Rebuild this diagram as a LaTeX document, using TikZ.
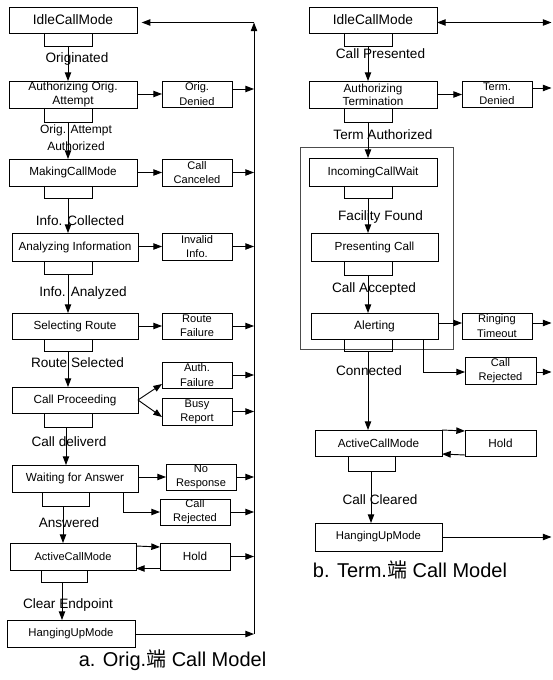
\documentclass[tikz,border=0pt]{standalone}
\usepackage{fontspec}
\setmainfont{Liberation Sans}
\newfontfamily\cjk{Noto Sans CJK SC}
\usetikzlibrary{arrows.meta}
\begin{document}
\begin{tikzpicture}[x=0.75pt,y=-0.75pt,
 every node/.style={inner sep=0pt, outer sep=0pt},
 bx/.style n args={2}{draw, line width=0.7pt, minimum width=#1*0.75pt, minimum height=#2*0.75pt, align=center},
 big/.style={bx={128}{27}, font=\fontsize{8.8}{10}\selectfont},
 idlebox/.style={bx={128}{26}, font=\fontsize{10.3}{12}\selectfont},
 sm/.style={bx={70}{26}, font=\fontsize{8.3}{10.6}\selectfont},
 lbl/.style={font=\fontsize{10.2}{12}\selectfont, align=center},
 captxt/.style={font=\fontsize{15}{18}\selectfont},
 ln/.style={line width=0.7pt},
 arr/.style={line width=0.7pt, -{Triangle[length=6.5pt,width=4.8pt]}},
 darr/.style={line width=0.7pt, {Triangle[length=6.5pt,width=4.8pt]}-{Triangle[length=6.5pt,width=4.8pt]}}
]
\useasboundingbox (0,0) rectangle (552,680);

% ================= left column =================
\node[idlebox] (idleL) at (73,20) {IdleCallMode};
\node[big, font=\fontsize{9}{10}\selectfont] (authO) at (73,94.5) {Authorizing Orig.\\Attempt};
\node[big] (making) at (73,172.5) {MakingCallMode};
\node[big, minimum width=126*0.75pt, minimum height=28*0.75pt] (anal) at (75,247) {Analyzing Information};
\node[big, minimum width=126*0.75pt, minimum height=26*0.75pt] (sel) at (75,326) {Selecting Route};
\node[big, minimum width=126*0.75pt, minimum height=26*0.75pt] (proc) at (75,400) {Call Proceeding};
\node[big, minimum width=126*0.75pt] (wait) at (75,478.5) {Waiting for Answer};
\node[big, minimum width=126*0.75pt, font=\fontsize{8.3}{10}\selectfont] (actL) at (73,556.5) {ActiveCallMode};
\node[big, font=\fontsize{8.5}{10}\selectfont] (hangL) at (71,633.5) {HangingUpMode};

\node[sm] (oden) at (197,94) {Orig.\\Denied};
\node[sm, minimum height=27*0.75pt] (ccan) at (197,172.5) {Call\\Canceled};
\node[sm, minimum height=27*0.75pt] (inv) at (197,246.5) {Invalid\\Info.};
\node[sm] (rfail) at (197,326) {Route\\Failure};
\node[sm] (afail) at (197,375) {Auth.\\Failure};
\node[sm, minimum height=27*0.75pt] (busy) at (197,411.5) {Busy\\Report};
\node[sm] (nores) at (201,477) {No\\Response};
\node[sm] (rejL) at (195,512) {Call\\Rejected};
\node[sm, minimum height=27*0.75pt, font=\fontsize{8.8}{10}\selectfont] (holdL) at (195,556.5) {Hold};

% brackets (left)
\draw[ln] (44,33) -- (44,46) -- (92,46) -- (92,33);
\draw[ln] (44,108) -- (44,122) -- (92,122) -- (92,108);
\draw[ln] (44,186) -- (44,198) -- (92,198) -- (92,186);
\draw[ln] (44,261) -- (44,274) -- (92,274) -- (92,261);
\draw[ln] (44,339) -- (44,351) -- (92,351) -- (92,339);
\draw[ln] (44,413) -- (44,427) -- (92,427) -- (92,413);
\draw[ln] (42,492) -- (42,506) -- (89,506) -- (89,492);
\draw[ln] (41,570) -- (41,582) -- (87,582) -- (87,570);

\coordinate (lb1) at (68,46);
\coordinate (lb2) at (68,122);
\coordinate (lb3) at (68,198);
\coordinate (lb4) at (68,274);
\coordinate (lb5) at (68,351);
\coordinate (lb6) at (66,427);
\coordinate (lb7) at (63,506);
\coordinate (lb8) at (62,582);
\draw[arr] (lb1) -- (authO.north -| lb1);
\draw[arr] (lb2) -- (making.north -| lb2);
\draw[arr] (lb3) -- (anal.north -| lb3);
\draw[arr] (lb4) -- (sel.north -| lb4);
\draw[arr] (lb5) -- (proc.north -| lb5);
\draw[arr] (lb6) -- (wait.north -| lb6);
\draw[arr] (lb7) -- (actL.north -| lb7);
\draw[arr] (lb8) -- (hangL.north -| lb8);

% labels (left)
\node[lbl] (t1) at (77,59) {Originated};
\node[lbl, font=\fontsize{9}{12.5}\selectfont] (t2) at (76,137.5) {Orig. Attempt\\Authorized};
\node[lbl] (t3) at (80,221) {Info. Collected};
\node[lbl] (t4) at (83,293) {Info. Analyzed};
\node[lbl] (t5) at (77.5,363) {Route Selected};
\node[lbl] (t6) at (69,442) {Call deliverd};
\node[lbl] (t7) at (69,523) {Answered};
\node[lbl] (t8) at (68,605) {Clear Endpoint};

% horizontal arrows (left)
\draw[arr] (authO.east |- oden.west) -- (oden.west);
\draw[arr] (making.east) -- (making.east -| ccan.west);
\draw[arr] (anal.east |- inv.west) -- (inv.west);
\draw[arr] (sel.east) -- (sel.east -| rfail.west);
\draw[arr] (proc.east) -- ([shift={(0,9)}]afail.west);
\draw[arr] (proc.east) -- ([shift={(0,5.5)}]busy.west);
\draw[arr] (wait.east |- nores.west) -- (nores.west);
\coordinate (w1) at (123,492);
\draw[arr] (w1) |- (rejL.west);
\draw[arr] ([shift={(0,3)}]actL.north east) -- ([shift={(0,4)}]holdL.north west);
\draw[arr] ([shift={(0,-1.5)}]holdL.south west) -- ([shift={(0,-1.5)}]actL.south east);

% return spine
\coordinate (top) at (254,22.5);
\coordinate (bot) at (254,634);
\draw[arr] (bot) -- (top);
\draw[arr, shorten >=3.5pt] (top) -- (idleL.east |- top);
\draw[arr] ([shift={(0,-5)}]oden.east) -- ([shift={(0,-5)}]oden.east -| top);
\draw[arr] (ccan.east) -- (ccan.east -| top);
\draw[arr] (inv.east) -- (inv.east -| top);
\draw[arr] (rfail.east) -- (rfail.east -| top);
\draw[arr] (afail.east) -- (afail.east -| top);
\draw[arr] (busy.east) -- (busy.east -| top);
\draw[arr] (nores.east) -- (nores.east -| top);
\draw[arr] (rejL.east) -- (rejL.east -| top);
\draw[arr] (holdL.east) -- (holdL.east -| top);
\draw[arr] (hangL.east |- bot) -- (bot);

\node[captxt] (capA) at (172.5,660) {a. Orig.{\cjk 端} Call Model};

% ================= right column =================
\node[draw, line width=0.6pt, draw=black!70, minimum width=153*0.75pt, minimum height=202*0.75pt] (cont) at (376.5,248) {};
\node[idlebox] (idleR) at (373,20) {IdleCallMode};
\node[big] (authT) at (373,94.5) {Authorizing\\Termination};
\node[sm] (tden) at (497,94) {Term.\\Denied};
\node[big, minimum height=28*0.75pt] (inc) at (373,172) {IncomingCallWait};
\node[big, minimum width=127*0.75pt, minimum height=28*0.75pt] (pres) at (374.5,247) {Presenting Call};
\node[big, minimum width=127*0.75pt, minimum height=26*0.75pt, font=\fontsize{9}{10}\selectfont] (alert) at (374.5,326) {Alerting};
\node[sm] (ring) at (497,326) {Ringing\\Timeout};
\node[sm, minimum width=71*0.75pt, minimum height=27*0.75pt] (rejR) at (500.5,370.5) {Call\\Rejected};
\node[big, minimum width=127*0.75pt, minimum height=26*0.75pt] (actR) at (378.5,443) {ActiveCallMode};
\node[sm, minimum width=71*0.75pt, font=\fontsize{8.8}{10}\selectfont] (holdR) at (500.5,443) {Hold};
\node[big, minimum width=127*0.75pt, minimum height=28*0.75pt, font=\fontsize{8.5}{10}\selectfont] (hangR) at (378.5,537) {HangingUpMode};

% brackets (right)
\draw[ln] (344,33) -- (344,46) -- (392,46) -- (392,33);
\draw[ln] (344,108) -- (344,122) -- (392,122) -- (392,108);
\draw[ln] (344,186) -- (344,198) -- (392,198) -- (392,186);
\draw[ln] (344,261) -- (344,275) -- (392,275) -- (392,261);
\draw[ln] (344,339) -- (344,351) -- (392,351) -- (392,339);
\draw[ln] (348,456) -- (348,471) -- (395,471) -- (395,456);

\coordinate (rb1) at (368,46);
\coordinate (rb2) at (368,122);
\coordinate (rb3) at (368,198);
\coordinate (rb4) at (368,275);
\coordinate (rb5) at (368,351);
\coordinate (rb6) at (371,471);
\draw[arr] (rb1) -- (authT.north -| rb1);
\draw[arr] (rb2) -- (inc.north -| rb2);
\draw[arr] (rb3) -- (pres.north -| rb3);
\draw[arr] (rb4) -- (alert.north -| rb4);
\draw[arr] (rb5) -- (actR.north -| rb5);
\draw[arr] (rb6) -- (hangR.north -| rb6);

% labels (right)
\node[lbl] (r1) at (380.5,54) {Call Presented};
\node[lbl] (r2) at (383,135) {Term Authorized};
\node[lbl] (r3) at (380.5,217) {Facility Found};
\node[lbl] (r4) at (374,289) {Call Accepted};
\node[lbl] (r5) at (369,371) {Connected};
\node[lbl] (r6) at (380,500) {Call Cleared};

% horizontal arrows (right)
\coordinate (redge) at (551.5,0);
\draw[darr] ([shift={(0,2.5)}]idleR.east) -- ([shift={(0,2.5)}]idleR.east -| redge);
\draw[arr] (authT.east) -- (authT.east -| tden.west);
\draw[arr] ([shift={(0,-6)}]tden.east) -- ([shift={(0,-6)}]tden.east -| redge);
\draw[arr] ([shift={(0,-3)}]alert.east) -- ([shift={(0,-3)}]alert.east -| ring.west);
\draw[arr] ([shift={(0,-3)}]ring.east) -- ([shift={(0,-3)}]ring.east -| redge);
\coordinate (a1) at (423,339);
\draw[arr] (a1) |- ([shift={(0,1.5)}]rejR.west);
\draw[arr] ([shift={(0,1.5)}]rejR.east) -- ([shift={(0,1.5)}]rejR.east -| redge);
\draw[arr] (actR.north east) -- ([shift={(0,1)}]holdR.north west);
\draw[arr] ([shift={(0,-1)}]holdR.south west) -- ([shift={(0,-2)}]actR.south east);
\draw[arr] (hangR.east) -- (hangR.east -| redge);

\node[captxt] (capB) at (410,570) {b. Term.{\cjk 端} Call Model};
\end{tikzpicture}
\end{document}
